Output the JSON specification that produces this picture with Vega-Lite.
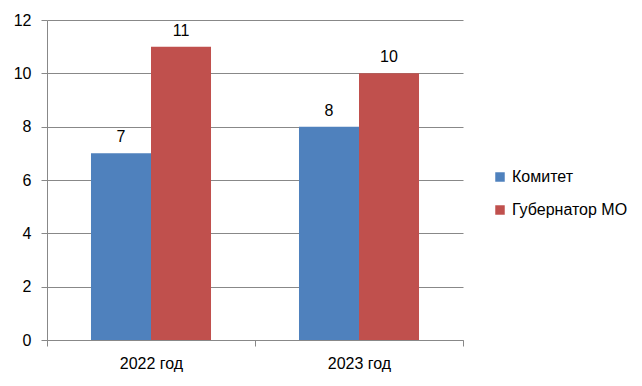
{
  "$schema": "https://vega.github.io/schema/vega-lite/v6.json",
  "autosize": "none",
  "width": 416,
  "height": 320,
  "padding": {"left": 47, "top": 20, "right": 179, "bottom": 46},
  "background": "white",
  "config": {
    "view": {"stroke": null},
    "font": "Liberation Sans",
    "axis": {"labelFont": "Liberation Sans", "labelFontSize": 16, "labelColor": "#000000", "domainColor": "#888888", "tickColor": "#888888", "gridColor": "#888888"}
  },
  "data": {
    "values": [
      {"year": "2022 год", "series": "Комитет", "value": 7},
      {"year": "2022 год", "series": "Губернатор МО", "value": 11},
      {"year": "2023 год", "series": "Комитет", "value": 8},
      {"year": "2023 год", "series": "Губернатор МО", "value": 10}
    ]
  },
  "encoding": {
    "x": {"field": "year", "type": "nominal", "scale": {"paddingInner": 0, "paddingOuter": 0},
      "axis": {"title": null, "labelAngle": 0, "tickSize": 6, "labelPadding": 9, "tickBand": "extent", "domain": true}},
    "xOffset": {"field": "series", "type": "nominal", "sort": ["Комитет", "Губернатор МО"], "scale": {"paddingOuter": 0.733, "paddingInner": 0}},
    "y": {"field": "value", "type": "quantitative", "scale": {"domain": [0, 12], "nice": false},
      "axis": {"title": null, "values": [0, 2, 4, 6, 8, 10, 12], "tickSize": 6, "labelPadding": 10, "grid": true, "domain": true}}
  },
  "layer": [
    {
      "mark": {"type": "bar"},
      "encoding": {
        "color": {"field": "series", "type": "nominal", "sort": ["Комитет", "Губернатор МО"],
          "scale": {"domain": ["Комитет", "Губернатор МО"], "range": ["#4F81BD", "#C0504D"]},
          "legend": {"title": null, "orient": "none", "legendX": 445, "legendY": 149, "symbolType": "square", "symbolSize": 90, "symbolStrokeWidth": 0, "labelFontSize": 16, "labelFont": "Liberation Sans", "labelColor": "#000000", "rowPadding": 17, "labelOffset": 4}}
      }
    },
    {
      "mark": {"type": "text", "baseline": "bottom", "dy": -8, "fontSize": 16, "font": "Liberation Sans", "color": "#000000"},
      "encoding": {"text": {"field": "value", "type": "quantitative"}}
    }
  ]
}
